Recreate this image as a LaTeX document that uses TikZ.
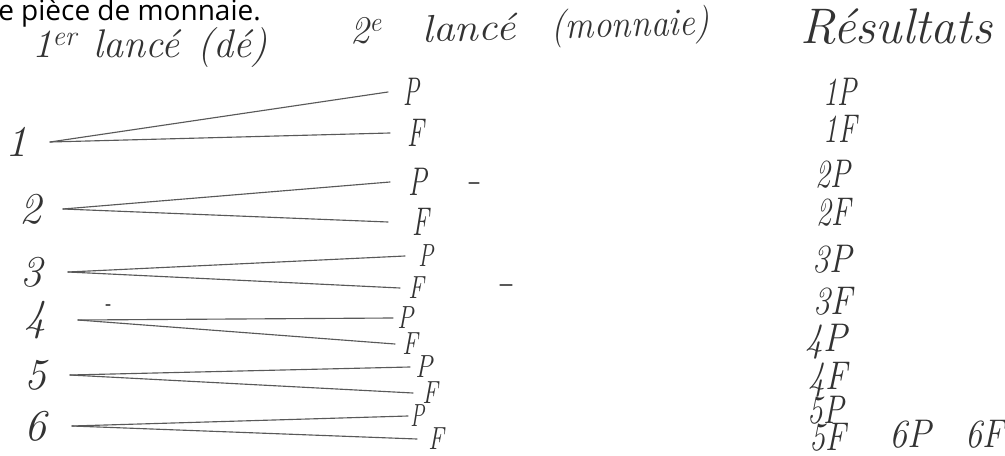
\documentclass[tikz,border=0pt]{standalone}
\usepackage{fontspec}
\newfontfamily\printfont{Open Sans}
\newcommand\fsz[1]{\fontsize{#1}{#1}\selectfont}
\newcommand\narrowed[2]{\scalebox{#1}[1]{#2}}
\tikzset{
  printed/.style={font=\printfont\fsz{21pt}, anchor=base west, inner sep=0pt, text=black},
  header/.style={font=\itshape\fsz{30pt}, anchor=base west, inner sep=0pt, text=black!80},
  rootlbl/.style={font=\itshape\fsz{33pt}, anchor=east, inner ysep=0pt, text=black!80},
  leafA/.style={font=\itshape\fsz{30pt}, anchor=west, inner ysep=0pt, text=black!80},
  leafB/.style={font=\itshape\fsz{24pt}, anchor=west, inner ysep=0pt, text=black!80},
  result/.style={font=\itshape\fsz{30pt}, inner sep=0pt, text=black!80},
  branch/.style={draw=black!65, line width=0.85pt, line cap=round},
  speck/.style={draw=black!65, line width=0.85pt, line cap=round}
}
\begin{document}
\begin{tikzpicture}[x=0.75pt, y=-0.75pt]
\useasboundingbox (0,0) rectangle (1005,456);
% printed text
\node[printed] (title) at (-2,21) {e pièce de monnaie.};
% headers
\node[header] (h1) at (32,58) {1\textsuperscript{er}\hspace{12pt}lancé\hspace{13.5pt}(dé)};
\node[header, font=\itshape\fsz{29pt}, rotate=1.5] (h2) at (350,44) {2\textsuperscript{e}\hspace{30pt}\narrowed{1.12}{lancé}\hspace{27pt}\narrowed{0.92}{(monnaie)}};
\node[header, font=\itshape\fsz{37.5pt}] (h3) at (800,44) {Résultats};
% roots
\node[rootlbl, inner xsep=16.5pt] (r1) at (50,142) {1};
\node[rootlbl, inner xsep=15.75pt] (r2) at (63,209) {2};
\node[rootlbl, inner xsep=18.75pt] (r3) at (68,272) {3};
\node[rootlbl, inner xsep=23.25pt] (r4) at (78,320) {4};
\node[rootlbl, inner xsep=17.25pt] (r5) at (70,375) {5};
\node[rootlbl, inner xsep=18.75pt] (r6) at (72,426) {6};
% leaves
\node[leafA, inner xsep=11.25pt] (p1) at (388,92) {\narrowed{0.6}{P}};
\node[leafA, inner xsep=12.75pt] (f1) at (390,133) {\narrowed{0.65}{F}};
\node[leafA, inner xsep=13.5pt] (p2) at (390,182) {\narrowed{0.7}{P}};
\node[leafA, inner xsep=18pt] (f2) at (388,222) {\narrowed{0.65}{F}};
\node[leafB, inner xsep=9.75pt] (p3) at (405,256) {\narrowed{0.7}{P}};
\node[leafB, inner xsep=6pt] (f3) at (400,288) {\narrowed{0.75}{F}};
\node[leafB, inner xsep=3pt] (p4) at (393,318) {\narrowed{0.75}{P}};
\node[leafB, inner xsep=5.25pt] (f4) at (395,344) {\narrowed{0.75}{F}};
\node[leafB, inner xsep=3.75pt] (p5) at (410,367) {\narrowed{0.8}{P}};
\node[leafB, inner xsep=6.75pt] (f5) at (413,393) {\narrowed{0.75}{F}};
\node[leafB, inner xsep=1.5pt] (p6) at (408,416) {\narrowed{0.65}{P}};
\node[leafB, inner xsep=8.25pt] (f6) at (417,439) {\narrowed{0.75}{F}};
% branches
\foreach \i in {1,...,6}{
  \draw[branch] (r\i.east) -- (p\i.west);
  \draw[branch] (r\i.east) -- (f\i.west);
}
% results
\node[result] (o1p) at (840,92) {\narrowed{0.72}{1P}};
\node[result] (o1f) at (840,129) {\narrowed{0.72}{1F}};
\node[result] (o2p) at (833,174) {\narrowed{0.75}{2P}};
\node[result] (o2f) at (834,212) {\narrowed{0.75}{2F}};
\node[result] (o3p) at (832,259) {\narrowed{0.85}{3P}};
\node[result] (o3f) at (833,301) {\narrowed{0.85}{3F}};
\node[result] (o4p) at (826,342) {\narrowed{0.9}{4P}};
\node[result] (o4f) at (828,380) {\narrowed{0.85}{4F}};
\node[result] (o5p) at (826,410) {\narrowed{0.78}{5P}};
\node[result] (o5f) at (828,437) {\narrowed{0.8}{5F}};
\node[result] (o6p) at (910,434) {\narrowed{0.9}{6P}};
\node[result, anchor=east] (o6f) at (1004,434) {\narrowed{0.85}{6F}};
% stray pencil marks
\draw[speck] (469,183) -- (479,183);
\draw[speck] (500,285) -- (512,285);
\draw[speck] (106,305) -- (110,305);
\end{tikzpicture}
\end{document}
